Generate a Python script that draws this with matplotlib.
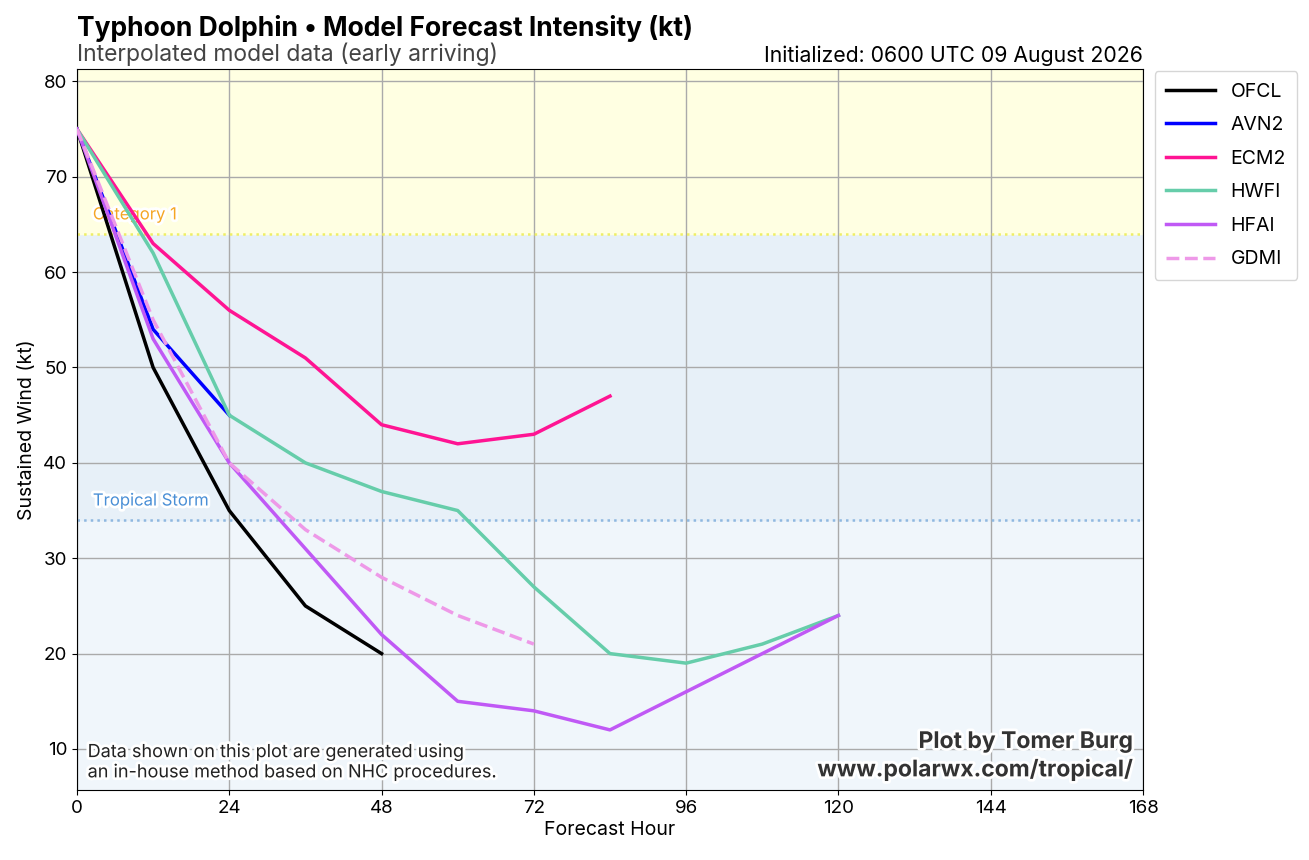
import numpy as np
import matplotlib
matplotlib.use("Agg")
from matplotlib import pyplot as plt
import matplotlib.patheffects as pe

plt.rcParams['font.family'] = ['Inter', 'DejaVu Sans']

# forecast data (kt)
ofcl_hr = [0, 12, 24, 36, 48]
ofcl_kt = [75, 50, 35, 25, 20]
avn2_hr = [0, 12, 24]
avn2_kt = [75, 54, 45]
ecm2_hr = [0, 12, 24, 36, 48, 60, 72, 84]
ecm2_kt = [75, 63, 56, 51, 44, 42, 43, 47]
hwfi_hr = [0, 12, 24, 36, 48, 60, 72, 84, 96, 108, 120]
hwfi_kt = [75, 62, 45, 40, 37, 35, 27, 20, 19, 21, 24]
hfai_hr = [0, 12, 24, 36, 48, 60, 72, 84, 96, 108, 120]
hfai_kt = [75, 53, 40, 31, 22, 15, 14, 12, 16, 20, 24]
gdmi_hr = [0, 12, 24, 36, 48, 60, 72]
gdmi_kt = [75, 55, 40, 33, 28, 24, 21]

models = [
    ("OFCL", ofcl_hr, ofcl_kt, "#000000", "-"),
    ("AVN2", avn2_hr, avn2_kt, "#0000ff", "-"),
    ("ECM2", ecm2_hr, ecm2_kt, "#ff1493", "-"),
    ("HWFI", hwfi_hr, hwfi_kt, "#66cdaa", "-"),
    ("HFAI", hfai_hr, hfai_kt, "#c059f5", "-"),
    ("GDMI", gdmi_hr, gdmi_kt, "#ee99e8", "--"),
]

fig = plt.figure(figsize=(13.09, 8.60), dpi=100)
ax = fig.add_axes([0.0588, 0.0814, 0.8144, 0.8384])

ymin, ymax = 5.7, 81.3
ax.axhspan(ymin, 34, color="#f0f6fb", zorder=0)
ax.axhspan(34, 64, color="#e7f0f8", zorder=0)
ax.axhspan(64, ymax, color="#ffffe2", zorder=0)
ax.axhline(34, color="#8fb8e0", ls=":", lw=1.8, zorder=1)
ax.axhline(64, color="#eeee66", ls=":", lw=1.8, zorder=1)

outline = [pe.withStroke(linewidth=4, foreground="white")]
ax.text(2.5, 66.0, "Category 1", color="#f5a623", fontsize=12, va="center",
        path_effects=outline, zorder=2)
ax.text(2.5, 36.0, "Tropical Storm", color="#4a8fd6", fontsize=12, va="center",
        path_effects=outline, zorder=2)

for name, hr, kt, col, ls in models:
    ax.plot(hr, kt, color=col, ls=ls, lw=2.5, label=name, zorder=3)

ax.set_xlim(0, 168)
ax.set_ylim(ymin, ymax)
ax.set_xticks(np.arange(0, 169, 24))
ax.set_yticks(np.arange(10, 81, 10))
ax.grid(True, color="#aaaaaa", lw=1, zorder=1)
ax.set_axisbelow(True)
ax.tick_params(labelsize=13.5)
ax.set_xlabel("Forecast Hour", fontsize=14, labelpad=3)
ax.set_ylabel("Sustained Wind (kt)", fontsize=14, labelpad=5)

ax.text(0.0, 1.037, "Typhoon Dolphin \u2022 Model Forecast Intensity (kt)",
        transform=ax.transAxes, fontsize=19, fontweight="bold", ha="left", va="bottom")
ax.text(0.0, 1.004, "Interpolated model data (early arriving)",
        transform=ax.transAxes, fontsize=16.5, color="#444444", ha="left", va="bottom")
ax.text(1.0, 1.004, "Initialized: 0600 UTC 09 August 2026",
        transform=ax.transAxes, fontsize=15.3, ha="right", va="bottom")

ax.text(0.01, 0.012, "Data shown on this plot are generated using\nan in-house method based on NHC procedures.",
        transform=ax.transAxes, fontsize=13, color="#222222", ha="left", va="bottom",
        linespacing=1.25, path_effects=outline, zorder=5)
ax.text(0.99, 0.012, "Plot by Tomer Burg\nwww.polarwx.com/tropical/",
        transform=ax.transAxes, fontsize=16.5, fontweight="bold", color="#333333",
        ha="right", va="bottom", linespacing=1.3, path_effects=outline, zorder=5)

ax.legend(loc="upper left", bbox_to_anchor=(1.009, 1.0), borderaxespad=0.1,
          fontsize=14, handlelength=2.5, labelspacing=0.8, borderpad=0.6)

fig.savefig("out.png", dpi=100)
